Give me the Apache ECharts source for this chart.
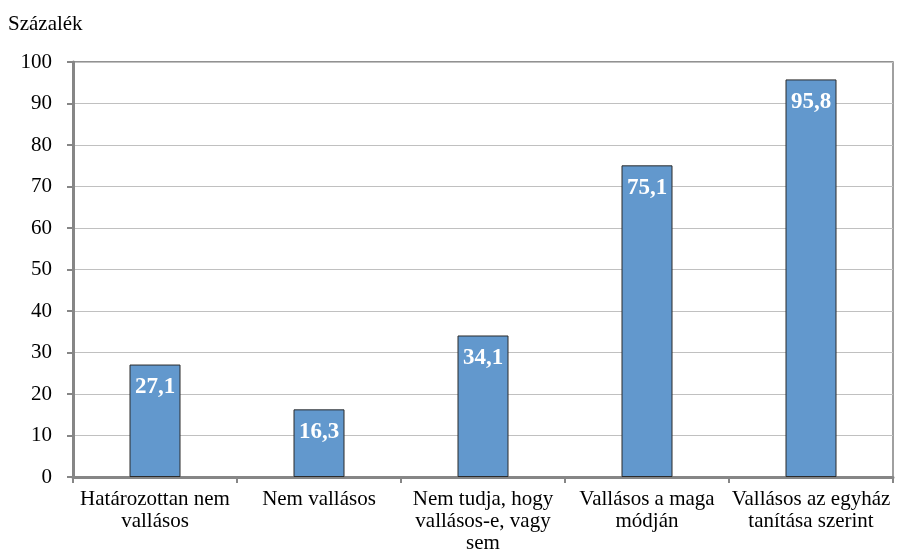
<!DOCTYPE html>
<html><head><meta charset="utf-8">
<script src="https://cdn.jsdelivr.net/npm/echarts@6/dist/echarts.min.js"></script>
<style>html,body{margin:0;padding:0;background:#fff}#c{width:897px;height:556px}</style>
</head><body><div id="c"></div>
<script>
const categories = ["Határozottan nem\nvallásos", "Nem vallásos", "Nem tudja, hogy\nvallásos-e, vagy\nsem", "Vallásos a maga\nmódján", "Vallásos az egyház\ntanítása szerint"];
const values = [27.1, 16.3, 34.1, 75.1, 95.8];
const yTitle = "Százalék";
const font = "'Liberation Serif', 'Times New Roman', serif";
const chart = echarts.init(document.getElementById('c'));
chart.setOption({
  animation: false,
  title: { text: yTitle, left: 3, top: 9, textStyle: { fontFamily: font, fontSize: 21, fontWeight: 'normal', color: '#000' } },
  grid: { left: 73, right: 4, top: 62, bottom: 79, show: true, borderColor: '#6e6e6e', borderWidth: 1.3 },
  xAxis: {
    type: 'category', data: categories,
    axisLine: { lineStyle: { color: '#868686', width: 3 } },
    axisTick: { show: true, length: 6, lineStyle: { color: '#868686', width: 2 } },
    axisLabel: { fontFamily: font, fontSize: 21, color: '#000', lineHeight: 22, margin: 11, interval: 0 }
  },
  yAxis: {
    type: 'value', min: 0, max: 100, interval: 10,
    axisLine: { show: true, lineStyle: { color: '#868686', width: 3 } },
    axisTick: { show: true, length: 6, lineStyle: { color: '#868686', width: 2 } },
    splitLine: { lineStyle: { color: '#c0c0c0', width: 1 } },
    axisLabel: { fontFamily: font, fontSize: 21, color: '#000', margin: 21 }
  },
  series: [{
    type: 'bar', data: values, barWidth: 51,
    itemStyle: { color: '#6298cd', borderColor: '#2b2b2b', borderWidth: 1 },
    label: { show: true, position: 'insideTop', distance: 11, fontFamily: font, fontSize: 23, fontWeight: 'bold', color: '#fff',
      formatter: p => String(p.value).replace('.', ',') }
  }]
});
</script></body></html>
